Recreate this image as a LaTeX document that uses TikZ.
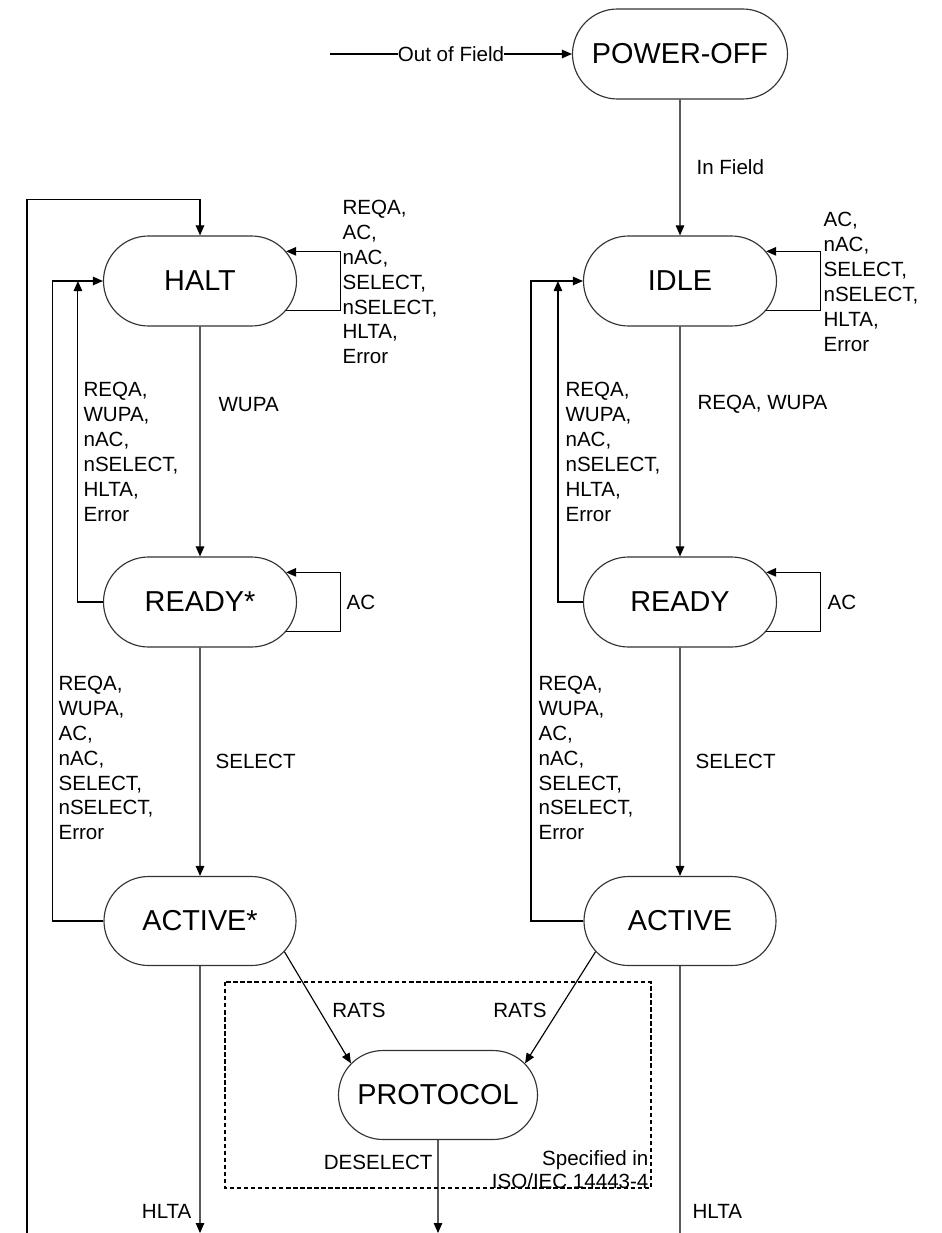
\documentclass[tikz,border=0pt]{standalone}
\usepackage{fontspec}
\setmainfont{Liberation Sans}
\usepackage{tikz}
\usetikzlibrary{arrows.meta,shapes.misc,calc}

\begin{document}
\begin{tikzpicture}[x=0.2mm,y=-0.2mm,>={Triangle[length=2mm,width=1.7mm]},line width=0.65pt,
st/.style={rounded rectangle,draw=black!80,minimum width=38.6mm,minimum height=18mm,inner sep=0pt,font=\fontsize{16.4}{19}\selectfont},
lb/.style={inner sep=0pt,align=left,font=\fontsize{11.7}{14.2}\selectfont}]
\useasboundingbox (0,0) rectangle (941,1233);
\node[st,minimum width=43mm] (poweroff) at (680,54) {POWER-OFF};
\node[st] (halt) at (200,281) {HALT};
\node[st] (idle) at (680,281) {IDLE};
\node[st] (readys) at (200,602) {READY*};
\node[st] (ready) at (680,602) {READY};
\node[st,minimum width=38.4mm,minimum height=17.8mm] (actives) at (200,921) {ACTIVE*};
\node[st,minimum width=38.4mm,minimum height=17.8mm] (active) at (680,921) {ACTIVE};
\node[st,minimum width=39.8mm,minimum height=17.8mm] (protocol) at (438,1095) {PROTOCOL};
\coordinate (outf) at (330,54);
\coordinate (hltaout) at (27,1233);
\coordinate (hltab1) at (200,1233);
\coordinate (deselb) at (438,1233);
\coordinate (hltab2) at (680,1233);
\draw[->] (outf) -- node[lb,fill=white] {Out of Field} (poweroff);
\draw[->] (poweroff) -- node[lb,anchor=west,xshift=3.2mm] {In Field} (idle);
\draw[->] (hltaout) |- ([yshift=7.2mm]halt.north) -- (halt.north);
\draw[->] (halt.-19) -- ++(54,0) |- (halt.19);
\draw[->] (idle.-19) -- ++(54,0) |- (idle.19);
\draw[->] (readys.-19) -- ++(54,0) |- (readys.19);
\draw[->] (ready.-19) -- ++(54,0) |- (ready.19);
\node[lb,anchor=west] (haltloop) at (342,282) {REQA,\\AC,\\nAC,\\SELECT,\\nSELECT,\\HLTA,\\Error};
\node[lb,anchor=west] (idleloop) at (823,282) {AC,\\nAC,\\SELECT,\\nSELECT,\\HLTA,\\Error};
\node[lb,anchor=west] (readysloop) at (346,602) {AC};
\node[lb,anchor=west] (readyloop) at (827,602) {AC};
\draw[->] (halt) -- node[lb,pos=0.34,anchor=west,xshift=3.6mm] {WUPA} (readys);
\draw[->] (idle) -- node[lb,pos=0.34,anchor=west,xshift=3.4mm] {REQA, WUPA} (ready);
\draw[->] (readys) -- node[lb,pos=0.5,anchor=west,xshift=3mm] {SELECT} (actives);
\draw[->] (ready) -- node[lb,pos=0.5,anchor=west,xshift=3mm] {SELECT} (active);
\draw[->] (readys.west) -| ([xshift=-5mm]halt.west);
\draw[->] (actives.west) -| ([xshift=-10mm]halt.west) -- (halt.west);
\draw[->] (ready.west) -| ([xshift=-5mm]idle.west);
\draw[->] (active.west) -| ([xshift=-10.4mm]idle.west) -- (idle.west);
\node[lb,anchor=west] (haltback) at (83,452) {REQA,\\WUPA,\\nAC,\\nSELECT,\\HLTA,\\Error};
\node[lb,anchor=west] (idleback) at (565,452) {REQA,\\WUPA,\\nAC,\\nSELECT,\\HLTA,\\Error};
\node[lb,anchor=west] (readysback) at (58,758) {REQA,\\WUPA,\\AC,\\nAC,\\SELECT,\\nSELECT,\\Error};
\node[lb,anchor=west] (readyback) at (538,758) {REQA,\\WUPA,\\AC,\\nAC,\\SELECT,\\nSELECT,\\Error};
\draw[dash pattern=on 2.5pt off 1.5pt] (225,982) rectangle (651,1188);
\draw[->] (actives.-20) -- node[lb,pos=0.53,anchor=west,xshift=2.4mm] {RATS} (protocol.160);
\draw[->] (active.200) -- node[lb,pos=0.53,anchor=east,xshift=-2.2mm] {RATS} (protocol.20);
\draw[->] (protocol) -- node[lb,pos=0.24,anchor=east,xshift=-1mm] {DESELECT} (deselb);
\node[lb,align=right,anchor=south east,font=\fontsize{11.7}{13.1}\selectfont] (spec) at (649,1189) {Specified in\\ISO/IEC 14443-4};
\draw[->] (actives) -- node[lb,pos=0.92,anchor=east,xshift=-1.6mm] {HLTA} (hltab1);
\draw (active) -- node[lb,pos=0.92,anchor=west,xshift=2.4mm] {HLTA} (hltab2);
\end{tikzpicture}
\end{document}
